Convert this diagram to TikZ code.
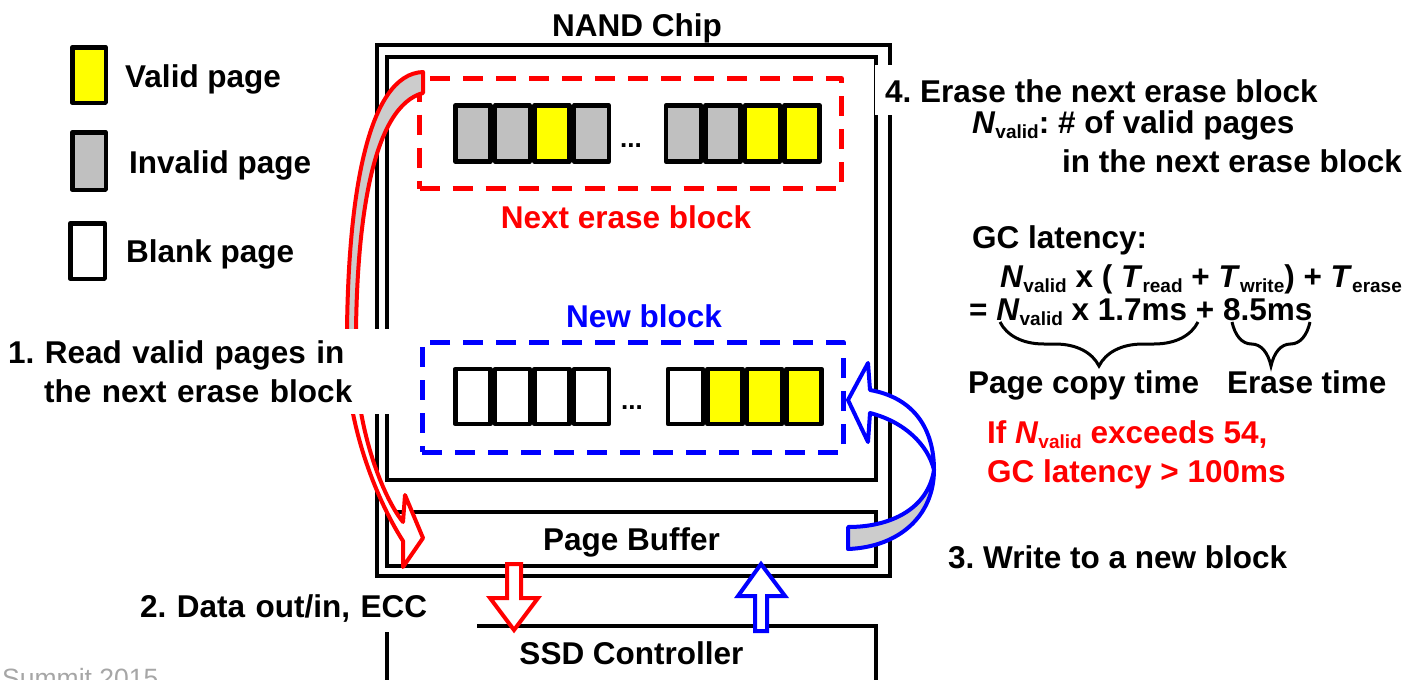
\documentclass[tikz,border=0pt]{standalone}
\usepackage{fontspec}
\setmainfont{Liberation Sans}
\usepackage{xcolor}
\usepackage{tikz}
\usetikzlibrary{positioning,decorations.pathreplacing}
\frenchspacing

\definecolor{pagegray}{HTML}{C0C0C0}
\definecolor{foldgray}{HTML}{CCCCCC}
\definecolor{pptred}{HTML}{FF0000}
\definecolor{pptblue}{HTML}{0000FF}
\definecolor{pptyellow}{HTML}{FFFF00}
\definecolor{capgray}{HTML}{A6A6A6}

\newcommand{\lowtxt}[1]{\raisebox{-5pt}{\fontsize{19}{19}\selectfont #1}}
\newcommand{\Nval}{\textit{N}\lowtxt{valid}}
\newcommand{\Tsub}[1]{\textit{T}\lowtxt{#1}}

\begin{document}
\begin{tikzpicture}[
  x=1pt, y=-1pt,
  txt/.style={
    font=\fontsize{31.5}{39}\selectfont\bfseries,
    inner sep=0pt
  },
  pagecell/.style={
    rectangle,
    draw=black,
    line width=4.5pt,
    line join=round,
    minimum width=35pt,
    minimum height=56pt,
    inner sep=0pt
  },
  unit/.style={
    rectangle,
    draw=black,
    line width=4.5pt,
    inner sep=0pt,
    font=\fontsize{31.5}{39}\selectfont\bfseries,
    text height=23pt
  },
  blk/.style={
    rectangle,
    line width=5pt,
    dash pattern=on 20pt off 13pt,
    line join=round,
    inner sep=0pt,
    minimum height=110pt
  },
  hollow/.style={line width=4pt, line join=miter, fill=white},
  turnarrow/.style={line width=4pt, line join=round},
  curly/.style={decorate, decoration={brace, mirror, amplitude=44pt}, line width=3pt}
]
\useasboundingbox (0,0) rectangle (1422,680);

% chip outline and its parts
\node[unit, minimum width=513pt, minimum height=531pt] (chip) at (633.5,310.5) {};
\node[unit, minimum width=489pt, minimum height=423pt] (array) at (631.5,268.5) {};
\node[unit, minimum width=489pt, minimum height=54pt, text depth=1pt] (buffer) at (631.5,539) {Page Buffer};
\node[unit, minimum width=489pt, minimum height=60pt, text depth=7pt] (ssd) at (631.5,656) {SSD Controller};

% the two blocks
\node[blk, draw=pptred, minimum width=422pt] (nextblk) at (630.5,133.5) {};
\node[blk, draw=pptblue, minimum width=421pt] (newblk) at (632.5,397) {};

% pages of the next erase block
\node[pagecell, fill=pagegray] (a1) at (472.75,133.5) {};
\node[pagecell, fill=pagegray, right=0pt of a1] (a2) {};
\node[pagecell, fill=pptyellow, right=0pt of a2] (a3) {};
\node[pagecell, fill=pagegray, right=0pt of a3] (a4) {};
\node[pagecell, fill=pagegray] (b1) at (683.5,133.5) {};
\node[pagecell, fill=pagegray, right=0pt of b1] (b2) {};
\node[pagecell, fill=pptyellow, right=0pt of b2] (b3) {};
\node[pagecell, fill=pptyellow, right=0pt of b3] (b4) {};
\node[font=\fontsize{26}{30}\selectfont\bfseries, anchor=base] (dots1) at (631,147) {...};

% pages of the new block
\node[pagecell, fill=white, minimum height=55pt] (c1) at (472.75,396.5) {};
\node[pagecell, fill=white, minimum height=55pt, right=0pt of c1] (c2) {};
\node[pagecell, fill=white, minimum height=55pt, right=0pt of c2] (c3) {};
\node[pagecell, fill=white, minimum height=55pt, right=0pt of c3] (c4) {};
\node[pagecell, fill=white, minimum height=55pt] (d1) at (685.5,396.5) {};
\node[pagecell, fill=pptyellow, minimum height=55pt, right=0pt of d1] (d2) {};
\node[pagecell, fill=pptyellow, minimum height=55pt, right=0pt of d2] (d3) {};
\node[pagecell, fill=pptyellow, minimum height=55pt, right=0pt of d3] (d4) {};
\node[font=\fontsize{26}{30}\selectfont\bfseries, anchor=base] (dots2) at (632,409) {...};

% legend
\node[pagecell, fill=pptyellow, minimum width=33.5pt, minimum height=55.5pt] (lgvalid) at (89,75) {};
\node[pagecell, fill=pagegray, minimum width=33.5pt, minimum height=57.5pt] (lginvalid) at (89,161) {};
\node[pagecell, fill=white, minimum width=34.5pt, minimum height=55.5pt] (lgblank) at (87.5,251) {};
\node[txt, anchor=base west] (lbvalid) at (125,87) {Valid page};
\node[txt, anchor=base west] (lbinvalid) at (129,173) {Invalid page};
\node[txt, anchor=base west] (lbblank) at (126,262) {Blank page};

% curved arrow: read from the next erase block
\filldraw[turnarrow, draw=pptred, fill=foldgray] (423,72) .. controls (368,74) and (345,195) .. (347,370)
  -- (356,370) .. controls (354,215) and (374,106) .. (423,93) -- cycle;
\filldraw[turnarrow, draw=pptred, fill=white] (347,370) .. controls (352,440) and (380,505) .. (403,541)
  -- (403,567) -- (423,538) -- (405,495) -- (403,522)
  .. controls (385,500) and (360,440) .. (356,370) -- cycle;

% curved arrow: write to the new block
\filldraw[turnarrow, draw=pptblue, fill=white] (848,400) -- (868,363) -- (870,390)
  .. controls (915,398) and (934,430) .. (934,470)
  .. controls (928,445) and (905,422) .. (870,413) -- (868,442) -- cycle;
\filldraw[turnarrow, draw=pptblue, fill=foldgray] (934,470) .. controls (934,515) and (900,547) .. (848,549)
  -- (848,527) .. controls (892,527) and (928,508) .. (934,470) -- cycle;

% data out / in
\draw[hollow, draw=pptred] (507,564) -- (521,564) -- (521,598) -- (538,598) -- (514,630)
  -- (490,598) -- (507,598) -- cycle;
\draw[hollow, draw=pptblue] (761,564) -- (785,596) -- (767,596) -- (767,631) -- (755,631)
  -- (755,596) -- (738,596) -- cycle;

% labels
\node[txt, anchor=base] (chiplbl) at (637,36) {NAND Chip};
\node[txt, anchor=base, text=pptred] (nextlbl) at (626,228) {Next erase block};
\node[txt, anchor=base, text=pptblue] (newlbl) at (644,327) {New block};

\node[txt, fill=white, anchor=base west, text width=400pt, align=left, inner ysep=11.5pt] (step1) at (8,363)
  {1. Read valid pages in\\\hspace*{36pt}the next erase block};
\node[txt, fill=white, anchor=base west, text width=337pt, text height=25pt, text depth=15pt] (step2) at (140,617)
  {2. Data out/in, ECC};
\node[txt, anchor=base west] (step3) at (948,568) {3. Write to a new block};
\node[txt, fill=white, anchor=base west, inner xsep=10pt, text height=37pt, text depth=13pt] (step4) at (875,102)
  {4. Erase the next erase block};

\node[txt, anchor=base west] (ndef1) at (972,133) {\Nval: \# of valid pages};
\node[txt, anchor=base west] (ndef2) at (1062,172) {in the next erase block};

\node[txt, anchor=base west] (gctitle) at (972,248) {GC latency:};
\node[txt, anchor=base west] (gcform) at (1000,287) {\Nval{} x ( \Tsub{read} + \Tsub{write}) + \Tsub{erase}};
\node[txt, anchor=base west] (gcnum) at (969,320) {= \Nval{} x 1.7ms + 8.5ms};
\draw[curly] (1000,322) -- (1198,322);
\draw[curly] (1232,322) -- (1310,322);
\node[txt, anchor=base west] (copylbl) at (968,393) {Page copy time};
\node[txt, anchor=base west] (eraselbl) at (1227,393) {Erase time};

\node[txt, anchor=base west, text=pptred] (warn1) at (987,443) {If \Nval{} exceeds 54,};
\node[txt, anchor=base west, text=pptred] (warn2) at (987,482) {GC latency > 100ms};

\node[font=\fontsize{26.5}{30}\selectfont, text=capgray, anchor=base west, inner sep=0pt] (footer) at (2,687) {Summit 2015};

\end{tikzpicture}
\end{document}
